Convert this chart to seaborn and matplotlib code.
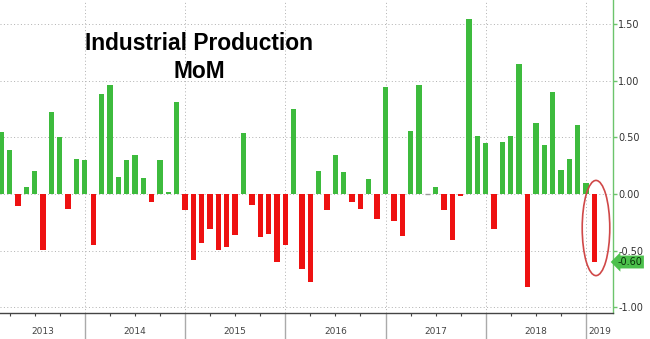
import numpy as np
import pandas as pd
import seaborn as sns
import matplotlib
matplotlib.use("Agg")
import matplotlib.pyplot as plt
from matplotlib.patches import Ellipse
from matplotlib.ticker import FixedLocator, FixedFormatter, NullFormatter
from matplotlib import font_manager
import matplotlib.transforms as mtransforms

# ---- data (monthly, Feb 2013 .. Jan 2019) ----
months = pd.period_range("2013-02", "2019-01", freq="M").strftime("%Y-%m").tolist()
mom_2013 = [0.55, 0.39, -0.11, 0.06, 0.20, -0.49, 0.72, 0.50, -0.13, 0.31, 0.30]
mom_2014 = [-0.45, 0.88, 0.96, 0.15, 0.30, 0.34, 0.14, -0.07, 0.30, 0.02, 0.81, -0.14]
mom_2015 = [-0.58, -0.43, -0.31, -0.49, -0.47, -0.36, 0.54, -0.10, -0.38, -0.35, -0.60, -0.45]
mom_2016 = [0.75, -0.66, -0.78, 0.20, -0.14, 0.34, 0.19, -0.07, -0.13, 0.13, -0.22, 0.94]
mom_2017 = [-0.24, -0.37, 0.56, 0.96, 0.00, 0.06, -0.14, -0.41, -0.02, 1.54, 0.51, 0.45]
mom_2018 = [-0.31, 0.46, 0.51, 1.15, -0.82, 0.63, 0.43, 0.90, 0.21, 0.31, 0.61, 0.10]
mom_2019 = [-0.60]
values = mom_2013 + mom_2014 + mom_2015 + mom_2016 + mom_2017 + mom_2018 + mom_2019

years = ["2013", "2014", "2015", "2016", "2017", "2018", "2019"]
y_ticks = [1.5, 1.0, 0.5, 0.0, -0.5, -1.0]
y_tick_labels = ["1.50", "1.00", "0.50", "0.00", "-0.50", "-1.00"]
last_label = "-0.60"
title = "Industrial Production\nMoM"

GREEN = "#3dbb3d"
RED = "#ee1111"
GRAY = "#999999"

# pick the regular-width Liberation Sans Bold file explicitly
title_font = None
for f in font_manager.fontManager.ttflist:
    if f.name == "Liberation Sans" and f.weight in (700, "bold") and f.style == "normal":
        title_font = font_manager.FontProperties(fname=f.fname, size=16.4)
        break
if title_font is None:
    title_font = font_manager.FontProperties(family="DejaVu Sans", weight="bold", size=15)

df = pd.DataFrame({"month": months, "value": values})
df["pos"] = np.arange(len(df))
df["sign"] = np.where(df["value"] > 0, "up", np.where(df["value"] < 0, "down", "flat"))

fig = plt.figure(figsize=(6.5, 3.39), dpi=100)
ax = fig.add_axes([0.0, 26 / 339, 612.7 / 650, 313 / 339])

sns.barplot(data=df, x="pos", y="value", hue="sign",
            palette={"up": GREEN, "down": RED, "flat": GRAY},
            width=0.64, legend=False, ax=ax, saturation=1, native_scale=True)
for p in ax.patches:
    if abs(p.get_height()) < 1e-9:
        p.set_edgecolor(GRAY)
        p.set_linewidth(1.0)

n = len(df)
ax.set_xlim(-0.156, n + 1.2)
ax.set_ylim(-1.05, 1.712)

# year boundaries (December positions)
dec_pos = df.index[df["month"].str.endswith("-12")].tolist()
quarter_pos = df.index[df["month"].str[-2:].isin(["03", "06", "09"])].tolist()

ax.xaxis.set_major_locator(FixedLocator(dec_pos))
ax.xaxis.set_major_formatter(NullFormatter())
ax.xaxis.set_minor_locator(FixedLocator(quarter_pos))
ax.tick_params(axis="x", which="major", length=19, width=1.0, color="#aaaaaa", direction="out")
ax.tick_params(axis="x", which="minor", length=2.5, width=0.8, color="#444444", direction="out")

# grid
ax.set_axisbelow(True)
ax.grid(axis="x", which="major", linestyle=(0, (1, 2.5)), color="#b0b0b0", linewidth=0.7)
ax.grid(axis="y", which="major", linestyle=(0, (1, 2.5)), color="#b0b0b0", linewidth=0.7)

# right axis
ax.yaxis.tick_right()
ax.yaxis.set_major_locator(FixedLocator(y_ticks))
ax.yaxis.set_major_formatter(FixedFormatter(y_tick_labels))
ax.tick_params(axis="y", which="major", length=3, width=1, color="#6cc46c",
               labelsize=7, labelcolor="#333333", pad=1)
for s in ["left", "top"]:
    ax.spines[s].set_visible(False)
ax.spines["right"].set_color("#6cc46c")
ax.spines["right"].set_linewidth(1.0)
ax.spines["bottom"].set_color("#444444")
ax.spines["bottom"].set_linewidth(1.0)
ax.set_xlabel("")
ax.set_ylabel("")

# year labels
trans = mtransforms.blended_transform_factory(ax.transData, ax.transAxes)
bounds = [ax.get_xlim()[0]] + dec_pos + [ax.get_xlim()[1]]
for yr, a, b in zip(years, bounds[:-1], bounds[1:]):
    ax.text((a + b) / 2, -0.058, yr, transform=trans, ha="center", va="center",
            fontsize=6.5, color="#444444", family="DejaVu Sans", clip_on=False)

# last value label on right axis
last_val = values[-1]
ax.annotate(last_label, xy=(1.0, last_val), xycoords=("axes fraction", "data"),
            xytext=(3.5, 0), textcoords="offset points", ha="left", va="center",
            fontsize=7, color="#0a300a",
            bbox=dict(boxstyle="larrow,pad=0.15", fc="#4cc04c", ec="none"))

# red ellipse around latest bar
ell = Ellipse((n - 1 + 0.2, last_val / 2), width=3.3, height=0.84,
              fill=False, edgecolor="#d04848", linewidth=1.2)
ax.add_patch(ell)

# title
fig.text(199 / 650, 1 - 57.5 / 339, title, ha="center", va="center",
         fontproperties=title_font, linespacing=1.25, color="black")

fig.savefig("out.png", dpi=100)
